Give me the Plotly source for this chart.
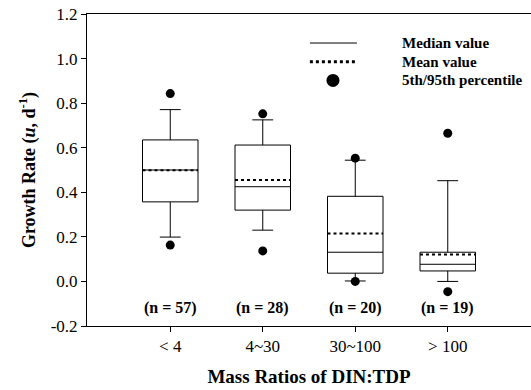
import plotly.graph_objects as go

categories = ["< 4", "4~30", "30~100", "> 100"]
positions = [1, 2, 3, 4]
q1 = [0.357, 0.320, 0.037, 0.047]
median = [0.500, 0.425, 0.131, 0.077]
q3 = [0.635, 0.612, 0.382, 0.131]
mean = [0.499, 0.455, 0.215, 0.121]
lower_whisker = [0.199, 0.230, 0.002, 0.000]
upper_whisker = [0.771, 0.725, 0.544, 0.452]
p5 = [0.163, 0.137, 0.000, -0.046]
p95 = [0.843, 0.752, 0.553, 0.665]
n_labels = ["(n = 57)", "(n = 28)", "(n = 20)", "(n = 19)"]
y_ticks = [-0.2, 0.0, 0.2, 0.4, 0.6, 0.8, 1.0, 1.2]

FONT = "Times New Roman, Liberation Serif, serif"
BOX_HALF = 0.3

fig = go.Figure()

fig.add_trace(go.Box(
    x=positions, q1=q1, median=median, q3=q3,
    lowerfence=lower_whisker, upperfence=upper_whisker,
    fillcolor="white", line=dict(color="black", width=1),
    width=2 * BOX_HALF, whiskerwidth=0.375, boxpoints=False,
    showlegend=False, hoverinfo="skip",
))

mx, my = [], []
for p, m in zip(positions, mean):
    mx += [p - BOX_HALF, p + BOX_HALF, None]
    my += [m, m, None]
fig.add_trace(go.Scatter(x=mx, y=my, mode="lines",
                         line=dict(color="black", width=2, dash="dot"),
                         showlegend=False, hoverinfo="skip"))

fig.add_trace(go.Scatter(x=positions + positions, y=p5 + p95, mode="markers",
                         marker=dict(color="black", size=9),
                         showlegend=False, hoverinfo="skip"))

for p, t in zip(positions, n_labels):
    fig.add_annotation(x=p, y=-0.12, text=f"<b>{t}</b>", showarrow=False,
                       font=dict(family=FONT, size=16, color="black"))

# Legend (manual)
fig.add_shape(type="line", xref="paper", yref="paper", x0=0.502, x1=0.608,
              y0=0.907, y1=0.907, line=dict(color="black", width=1))
fig.add_shape(type="line", xref="paper", yref="paper", x0=0.502, x1=0.608,
              y0=0.847, y1=0.847, line=dict(color="black", width=3, dash="dot"))
fig.add_shape(type="circle", xref="paper", yref="paper",
              x0=0.554 - 0.0146, x1=0.554 + 0.0146, y0=0.787 - 0.0209, y1=0.787 + 0.0209,
              fillcolor="black", line=dict(color="black", width=0))
for txt, yy in [("Median value", 0.907), ("Mean value", 0.847), ("5th/95th percentile", 0.789)]:
    fig.add_annotation(xref="paper", yref="paper", x=0.706, y=yy, text=f"<b>{txt}</b>",
                       showarrow=False, xanchor="left", yanchor="middle",
                       font=dict(family=FONT, size=15, color="black"))

fig.update_layout(
    width=531, height=390,
    margin=dict(l=87, r=0, t=14, b=64),
    plot_bgcolor="white", paper_bgcolor="white",
    font=dict(family=FONT, size=17, color="black"),
    xaxis=dict(range=[0.1, 4.9], tickvals=positions, ticktext=categories,
               showline=True, linecolor="black", linewidth=1, mirror=True,
               ticks="outside", ticklen=5, tickcolor="black", showgrid=False,
               zeroline=False,
               title=dict(text="<b>Mass Ratios of DIN:TDP</b>", font=dict(size=19), standoff=14)),
    yaxis=dict(range=[-0.2, 1.2], tickvals=y_ticks, ticktext=[f"{v:.1f}" for v in y_ticks],
               showline=True, linecolor="black", linewidth=1,
               ticks="outside", ticklen=5, tickcolor="black", showgrid=False,
               zeroline=False,
               title=dict(text="<b>Growth Rate (<i>u</i>, d<sup>-1</sup>)</b>", font=dict(size=18), standoff=10)),
)

fig.write_html("out.html", config={"displayModeBar": False},
               post_script="document.body.style.margin='0';")
